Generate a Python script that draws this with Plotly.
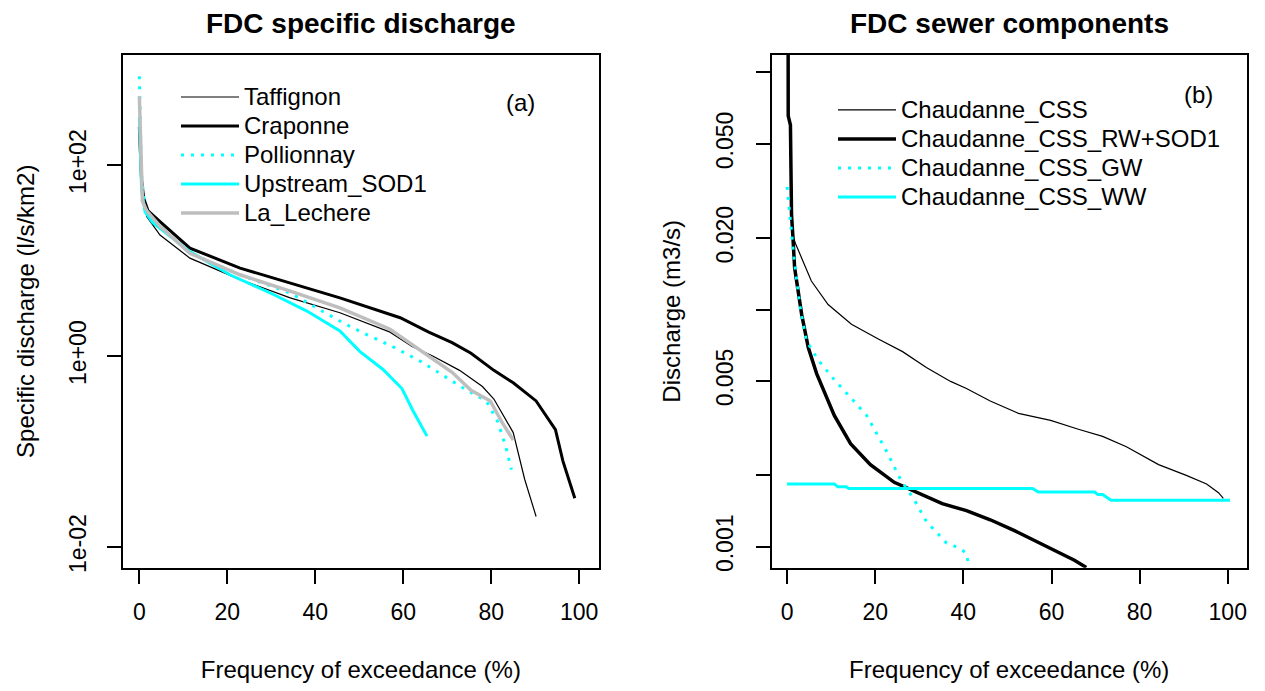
import plotly.graph_objects as go

FONT = 'Liberation Sans, Arial, sans-serif'
CYAN = '#00FFFF'
GREY = '#BEBEBE'

# (a) specific discharge, l/s/km2 vs frequency of exceedance (%)
taffignon_x = [0, 0.2, 0.5, 1.0, 1.7, 4.7, 11.5, 22.9, 34.3, 45.6, 57.0, 62.0, 66.7, 72.8, 78.0, 80.6, 85.0, 87.6, 90.2]
taffignon_q = [398, 158, 79.4, 39.8, 28.8, 18.5, 10.6, 6.31, 4.06, 2.84, 1.78, 1.26, 1.0, 0.708, 0.479, 0.355, 0.158,
               0.0513, 0.0209]

craponne_x = [0, 0.2, 0.5, 1.0, 2.0, 4.7, 11.5, 22.9, 34.3, 45.6, 59.3, 65.8, 71.1, 75.4, 80.6, 85.0, 90.2, 94.6, 96.3,
              99.0]
craponne_q = [251, 126, 70.8, 44.7, 33.1, 25.5, 13.5, 8.34, 5.82, 4.06, 2.52, 1.78, 1.38, 1.07, 0.708, 0.525, 0.339,
              0.170, 0.0794, 0.0324]

pollionnay_x = [0, 0.2, 0.5, 1.3, 4.7, 11.5, 22.9, 34.3, 40.5, 46.6, 51.9, 57.1, 64.1, 69.3, 74.5, 78.9, 81.5, 83.3, 84.6]
pollionnay_q = [851, 251, 79.4, 33.1, 22.4, 12.0, 7.08, 4.57, 3.16, 2.19, 1.66, 1.29, 0.871, 0.617, 0.437, 0.339, 0.204,
                0.112, 0.0646]

upstream_x = [0, 0.2, 0.5, 1.3, 3.0, 7.4, 11.5, 20.6, 30.5, 38.1, 45.6, 50.1, 55.4, 59.7, 62.3, 65.4]
upstream_q = [316, 126, 56.2, 32.4, 25.1, 17.4, 12.4, 7.10, 4.41, 2.96, 1.83, 1.12, 0.724, 0.457, 0.263, 0.145]

lechere_x = [0, 0.2, 0.4, 0.7, 1.7, 4.7, 11.5, 22.9, 34.3, 45.6, 57.0, 65.0, 71.1, 75.4, 79.8, 82.4, 85.0]
lechere_q = [525, 200, 85.1, 41.7, 33.1, 22.9, 11.9, 7.10, 4.78, 3.20, 1.91, 1.05, 0.676, 0.437, 0.339, 0.204, 0.132]

# (b) sewer components, m3/s
css_x = [0.2, 0.25, 0.75, 1.0, 1.3, 1.9, 3.6, 5.5, 9.3, 14.6, 20.7, 26.2, 31.6, 37.1, 40.7, 46.1, 52.5, 59.8, 66.1,
         71.6, 77.0, 84.3, 90.6, 95.2, 97.9, 99.0]
css_q = [0.4, 0.0656, 0.06, 0.0251, 0.0205, 0.0190, 0.0160, 0.0132, 0.0105, 0.00867, 0.00752, 0.00665, 0.00570,
         0.00498, 0.00465, 0.00412, 0.00365, 0.00341, 0.00313, 0.00292, 0.00264, 0.00222, 0.00200, 0.00184, 0.00169,
         0.00160]

rw_x = [0.2, 0.25, 0.75, 1.0, 1.3, 1.7, 3.3, 4.8, 6.7, 8.0, 10.7, 14.4, 18.9, 24.3, 29.8, 35.2, 40.7, 46.1, 51.6, 57.0,
        61.6, 65.2, 67.9]
rw_q = [0.4, 0.0656, 0.06, 0.0251, 0.0205, 0.0150, 0.00955, 0.00692, 0.00537, 0.00472, 0.00358, 0.00272, 0.00222,
        0.00187, 0.00169, 0.00152, 0.00142, 0.00130, 0.00117, 0.00104, 0.00094, 0.000877, 0.000818]

gw_x = [0, 0.7, 1.6, 3.0, 4.4, 7.1, 10.7, 14.4, 18.0, 22.5, 25.7, 28.9, 31.6, 36.1, 38.9, 40.7, 41.1]
gw_q = [0.0329, 0.0245, 0.0162, 0.01005, 0.00738, 0.00611, 0.00506, 0.00426, 0.00359, 0.00254, 0.00193, 0.00157,
        0.00128, 0.00104, 0.00099, 0.00094, 0.000847]

ww_x = [0, 10.7, 11.5, 13.4, 14.0, 55.7, 57.0, 69.8, 70.5, 71.6, 73.5, 100.5]
ww_q = [0.00184, 0.00184, 0.00179, 0.00179, 0.00176, 0.00176, 0.00170, 0.00170, 0.00166, 0.00166, 0.00157, 0.00157]

left_ticks = [0.01, 1, 100]
left_ticktext = ['1e-02', '1e+00', '1e+02']
right_ticks = [0.001, 0.002, 0.005, 0.01, 0.02, 0.05, 0.1]
right_ticktext = ['0.001', '', '0.005', '', '0.020', '0.050', '']

# the page body keeps its 8px margin, so the figure is 16px smaller than the window
W, H = 1257, 683


def fx(px):
    """window pixel -> paper x"""
    return (px - 8) / W


def fy(py):
    """window pixel -> paper y"""
    return 1 - (py - 8) / H


fig = go.Figure()


def add_line(x, y, name, color, width, dash, panel):
    axes = {1: ('x', 'y', 'legend'), 2: ('x2', 'y2', 'legend2')}[panel]
    # legend rows are spaced for 20px text, the label itself is drawn a bit bigger
    label = f'<span style="font-size:24px">{name}</span>'
    fig.add_trace(go.Scatter(x=x, y=y, mode='lines', name=label, xaxis=axes[0], yaxis=axes[1], legend=axes[2],
                             line=dict(color=color, width=width, dash=dash)))


add_line(taffignon_x, taffignon_q, 'Taffignon', 'black', 1.2, 'solid', 1)
add_line(craponne_x, craponne_q, 'Craponne', 'black', 3, 'solid', 1)
add_line(pollionnay_x, pollionnay_q, 'Pollionnay', CYAN, 3, '3px,7px', 1)
add_line(upstream_x, upstream_q, 'Upstream_SOD1', CYAN, 3, 'solid', 1)
add_line(lechere_x, lechere_q, 'La_Lechere', GREY, 3.5, 'solid', 1)

add_line(css_x, css_q, 'Chaudanne_CSS', 'black', 1.2, 'solid', 2)
add_line(rw_x, rw_q, 'Chaudanne_CSS_RW+SOD1', 'black', 3.5, 'solid', 2)
add_line(gw_x, gw_q, 'Chaudanne_CSS_GW', CYAN, 3, '3px,7px', 2)
add_line(ww_x, ww_q, 'Chaudanne_CSS_WW', CYAN, 3, 'solid', 2)

# R-like boxed axes
axis_style = dict(showline=True, mirror=True, linecolor='black', linewidth=1.5, showgrid=False, zeroline=False,
                  ticks='outside', ticklen=14, tickwidth=1.5, tickcolor='black',
                  tickfont=dict(family=FONT, size=23, color='black'))
plot_y = [fy(572), fy(55)]

fig.update_layout(
    width=W, height=H,
    margin=dict(l=0, r=0, t=0, b=0),
    paper_bgcolor='white', plot_bgcolor='white',
    font=dict(family=FONT, size=24, color='black'),
    xaxis=dict(axis_style, domain=[fx(122.7), fx(599)], range=[-3.78, 104.5], anchor='y', tick0=0, dtick=20,
               ticklabelstandoff=9,
               title=dict(text='Frequency of exceedance (%)', standoff=37, font=dict(size=24))),
    yaxis=dict(axis_style, domain=plot_y, type='log', range=[-2.218, 3.156], anchor='x',
               tickvals=left_ticks, ticktext=left_ticktext, tickangle=-90, ticklabelstandoff=12,
               title=dict(text='Specific discharge (l/s/km2)', standoff=23, font=dict(size=24))),
    xaxis2=dict(axis_style, domain=[fx(771.7), fx(1246.7)], range=[-3.5, 104.3], anchor='y2', tick0=0, dtick=20,
                ticklabelstandoff=9,
                title=dict(text='Frequency of exceedance (%)', standoff=37, font=dict(size=24))),
    yaxis2=dict(axis_style, domain=plot_y, type='log', range=[-3.089, -0.925], anchor='x2',
                tickvals=right_ticks, ticktext=right_ticktext, tickangle=-90, ticklabelstandoff=14,
                title=dict(text='Discharge (m3/s)', standoff=24, font=dict(size=24))),
    legend=dict(x=fx(176), y=fy(78), xanchor='left', yanchor='top', bgcolor='rgba(0,0,0,0)',
                font=dict(size=20), traceorder='normal', itemwidth=58),
    legend2=dict(x=fx(833), y=fy(91), xanchor='left', yanchor='top', bgcolor='rgba(0,0,0,0)',
                 font=dict(size=20), traceorder='normal', itemwidth=58),
    showlegend=True,
)

# panel titles and letters
for text, x, y, size, bold in [('FDC specific discharge', 361, 24, 28, True),
                               ('FDC sewer components', 1009, 24, 28, True),
                               ('(a)', 520, 103, 24, False),
                               ('(b)', 1198, 95, 24, False)]:
    fig.add_annotation(text=f'<b>{text}</b>' if bold else text, x=fx(x), y=fy(y), xref='paper', yref='paper',
                       xanchor='center', yanchor='middle', showarrow=False, font=dict(family=FONT, size=size))

fig.write_html('out.html')
